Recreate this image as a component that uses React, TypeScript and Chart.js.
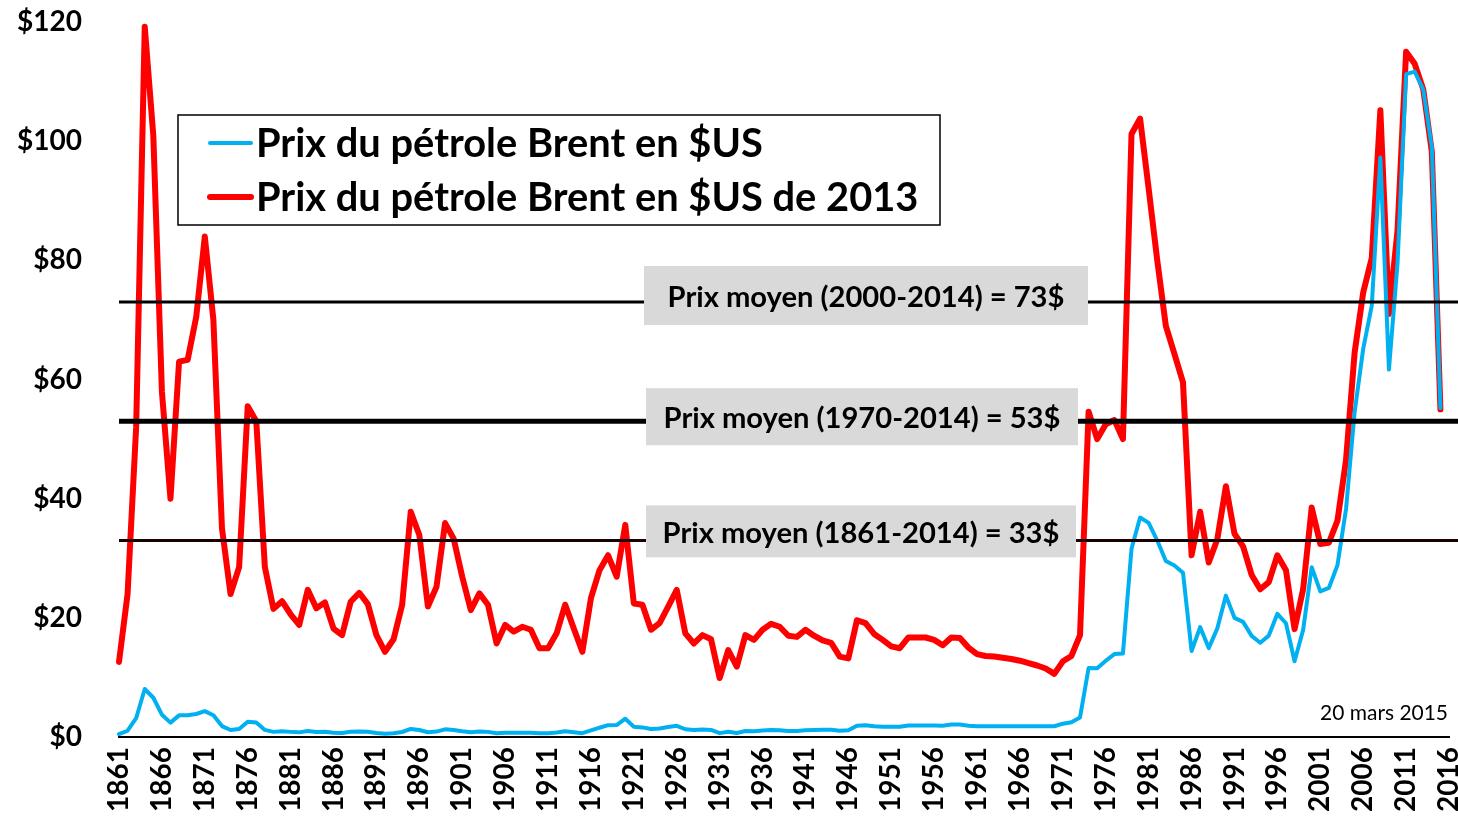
import React, { useEffect, useRef } from 'react';
import { Chart, registerables } from 'chart.js';

Chart.register(...registerables);

// Categories: years 1861..2016
const firstYear = 1861;
const lastYear = 2016;
const years: string[] = Array.from({ length: lastYear - firstYear + 1 }, (_, i) => String(firstYear + i));

// Nominal Brent price ($US), 1861..2015 (2016 empty)
const nominalPrice: (number | null)[] = [
  0.49, 1.05, 3.15, 8.06, 6.59, 3.74, 2.41, 3.63, 3.64, 3.86,
  4.34, 3.64, 1.83, 1.17, 1.35, 2.56, 2.42, 1.19, 0.86, 0.95,
  0.86, 0.78, 1.0, 0.84, 0.88, 0.71, 0.67, 0.88, 0.94, 0.87,
  0.67, 0.56, 0.64, 0.84, 1.36, 1.18, 0.79, 0.91, 1.29, 1.19,
  0.96, 0.8, 0.94, 0.86, 0.62, 0.73, 0.72, 0.72, 0.7, 0.61,
  0.61, 0.74, 0.95, 0.81, 0.64, 1.1, 1.56, 1.98, 2.01, 3.07,
  1.73, 1.61, 1.34, 1.43, 1.68, 1.88, 1.3, 1.17, 1.27, 1.19,
  0.65, 0.87, 0.67, 1.0, 0.97, 1.09, 1.18, 1.13, 1.02, 1.02,
  1.14, 1.19, 1.2, 1.21, 1.05, 1.12, 1.9, 1.99, 1.8, 1.71,
  1.71, 1.71, 1.93, 1.93, 1.93, 1.93, 1.9, 2.08, 2.08, 1.9,
  1.8, 1.8, 1.8, 1.8, 1.8, 1.8, 1.8, 1.8, 1.8, 1.8,
  2.24, 2.48, 3.29, 11.58, 11.53, 12.8, 13.92, 14.02, 31.61, 36.83,
  35.93, 32.97, 29.55, 28.78, 27.56, 14.43, 18.44, 14.92, 18.23, 23.73,
  20.0, 19.32, 16.97, 15.82, 17.02, 20.67, 19.09, 12.72, 17.97, 28.5,
  24.44, 25.02, 28.83, 38.27, 54.52, 65.14, 72.39, 97.26, 61.67, 79.5,
  111.26, 111.67, 108.66, 98.95, 55.2, null,
];

// Brent price in 2013 $US, 1861..2015 (2016 empty)
const realPrice: (number | null)[] = [
  12.6, 24.0, 52, 119.2, 100.9, 58, 40, 63, 63.3, 70.5,
  84, 70, 35, 24, 28.5, 55.5, 53, 28.5, 21.5, 22.8,
  20.6, 18.8, 24.7, 21.6, 22.6, 18.2, 17.1, 22.7, 24.2, 22.3,
  17.1, 14.3, 16.4, 22.2, 37.8, 33.9, 21.9, 25.2, 35.9, 33.3,
  26.9, 21.3, 24.1, 22.2, 15.7, 18.8, 17.7, 18.5, 18.0, 14.9,
  14.9, 17.4, 22.2, 18.2, 14.3, 23.3, 28.0, 30.5, 26.9, 35.6,
  22.4, 22.2, 18.0, 19.1, 21.9, 24.7, 17.4, 15.7, 17.1, 16.4,
  9.9, 14.6, 11.8, 17.1, 16.3, 18.0, 19.0, 18.5, 17.0, 16.8,
  18.0, 17.0, 16.2, 15.8, 13.5, 13.2, 19.6, 19.1, 17.3, 16.3,
  15.2, 14.9, 16.7, 16.7, 16.7, 16.3, 15.4, 16.7, 16.6, 15.0,
  13.9, 13.6, 13.5, 13.3, 13.1, 12.8, 12.4, 12.0, 11.5, 10.6,
  12.7, 13.6, 17.1, 54.6, 50.0, 52.5, 53.2, 50.0, 101.2, 103.8,
  92, 80, 69, 64.3, 59.5, 30.5, 37.8, 29.3, 33.2, 42.1,
  34.1, 32.0, 27.2, 24.8, 26.0, 30.5, 28.0, 18.1, 24.8, 38.5,
  32.4, 32.6, 36.3, 46.5, 64.5, 74.6, 80.4, 105.2, 71, 85,
  115, 113, 108.7, 98.2, 55.0, null,
];

const seriesNames = ['Prix du pétrole Brent en $US', 'Prix du pétrole Brent en $US de 2013'];
const seriesColors = ['#00b0f0', '#ff0000'];
const seriesWidths = [4, 6];

// Average price reference lines
const avgValues = [73, 53, 33];
const avgLabels = [
  'Prix moyen (2000-2014) = 73$',
  'Prix moyen (1970-2014) = 53$',
  'Prix moyen (1861-2014) = 33$',
];
const avgLineWidths = [3, 5, 3];
const avgLineColors = ['#000', '#000', '#1a0000'];
// label box styling: left, width, height, vertical offset from line
const boxLefts = [644, 646, 646];
const boxWidths = [444, 432, 430];
const boxHeights = [59, 57, 52];
const boxOffsets = [-6.5, -4.5, -9];

const yTicks = [0, 20, 40, 60, 80, 100, 120];
const dateNote = '20 mars 2015';

const FONT = 'Lato, "Open Sans", sans-serif';

function fitFont(ctx: CanvasRenderingContext2D, text: string, target: number, weight: string) {
  ctx.font = `${weight} 100px ${FONT}`;
  const w = ctx.measureText(text).width;
  return (100 * target) / w;
}

const overlayPlugin = {
  id: 'overlay',
  afterDatasetsDraw(chart: any) {
    const { ctx, chartArea, scales } = chart;
    const y = scales.y;
    ctx.save();
    // Average lines
    avgValues.forEach((v, i) => {
      const py = y.getPixelForValue(v);
      ctx.strokeStyle = avgLineColors[i];
      ctx.lineWidth = avgLineWidths[i];
      ctx.beginPath();
      ctx.moveTo(chartArea.left, py);
      ctx.lineTo(chart.width, py);
      ctx.stroke();
    });
    // Label boxes
    const boxSize = fitFont(ctx, avgLabels[0], 397, 'bold');
    ctx.font = `bold ${boxSize}px ${FONT}`;
    avgValues.forEach((v, i) => {
      const py = y.getPixelForValue(v);
      const left = boxLefts[i];
      const w = boxWidths[i];
      const h = boxHeights[i];
      const cy = py + boxOffsets[i];
      ctx.fillStyle = '#d9d9d9';
      ctx.fillRect(left, cy - h / 2, w, h);
      ctx.fillStyle = '#000';
      ctx.textAlign = 'center';
      ctx.textBaseline = 'middle';
      ctx.fillText(avgLabels[i], left + w / 2, cy + 2);
    });
    // Legend box
    const lx = 178, ly = 115, lw = 762, lh = 110;
    ctx.fillStyle = '#fff';
    ctx.fillRect(lx, ly, lw, lh);
    ctx.strokeStyle = '#000';
    ctx.lineWidth = 1.5;
    ctx.strokeRect(lx, ly, lw, lh);
    const legSize = fitFont(ctx, seriesNames[0], 507, 'bold');
    const rows = [143, 197];
    seriesNames.forEach((name, i) => {
      const ry = rows[i];
      ctx.strokeStyle = seriesColors[i];
      ctx.lineWidth = seriesWidths[i];
      ctx.lineCap = 'round';
      ctx.beginPath();
      ctx.moveTo(210, ry);
      ctx.lineTo(251, ry);
      ctx.stroke();
      ctx.font = `bold ${legSize}px ${FONT}`;
      ctx.fillStyle = '#000';
      ctx.textAlign = 'left';
      ctx.textBaseline = 'middle';
      ctx.fillText(name, 256, ry + 1);
    });
    // Date note
    const noteSize = fitFont(ctx, dateNote, 128, 'normal');
    ctx.font = `normal ${noteSize}px ${FONT}`;
    ctx.fillStyle = '#000';
    ctx.textAlign = 'right';
    ctx.textBaseline = 'alphabetic';
    ctx.fillText(dateNote, 1448, 720);
    ctx.restore();
  },
};

export default function App() {
  const ref = useRef<HTMLCanvasElement | null>(null);
  useEffect(() => {
    if (!ref.current) return;
    const chart = new Chart(ref.current, {
      type: 'line',
      data: {
        labels: years,
        datasets: [
          {
            label: seriesNames[0],
            data: nominalPrice,
            borderColor: seriesColors[0],
            backgroundColor: seriesColors[0],
            borderWidth: seriesWidths[0],
            pointRadius: 0,
            tension: 0,
            borderJoinStyle: 'round',
            borderCapStyle: 'round',
            spanGaps: false,
          },
          {
            label: seriesNames[1],
            data: realPrice,
            borderColor: seriesColors[1],
            backgroundColor: seriesColors[1],
            borderWidth: seriesWidths[1],
            pointRadius: 0,
            tension: 0,
            borderJoinStyle: 'round',
            borderCapStyle: 'round',
            spanGaps: false,
          },
        ],
      },
      options: {
        responsive: false,
        animation: false,
        layout: { padding: { top: 22, right: 9, left: 0, bottom: 0 } },
        plugins: {
          legend: { display: false },
          tooltip: { enabled: false },
        },
        scales: {
          x: {
            type: 'category',
            offset: false,
            grid: { display: false, drawTicks: false },
            border: { display: true, color: '#000', width: 2 },
            ticks: {
              autoSkip: false,
              maxRotation: 90,
              minRotation: 90,
              padding: 10,
              color: '#000',
              font: { family: FONT, weight: 'bold', size: 28 },
              callback: (_v: any, idx: number) => (idx % 5 === 0 ? years[idx] : null),
            },
            afterFit: (scale: any) => {
              scale.height = 84;
              scale.paddingLeft = 0;
              scale.paddingRight = 0;
            },
          },
          y: {
            min: 0,
            max: 120,
            grid: { display: false, drawTicks: false },
            border: { display: false },
            afterBuildTicks: (scale: any) => {
              scale.ticks = yTicks.map((v) => ({ value: v }));
            },
            ticks: {
              padding: 37,
              color: '#000',
              font: { family: FONT, weight: 'bold', size: 28 },
              callback: (v: any) => '$' + v,
            },
            afterFit: (scale: any) => {
              scale.width = 119;
              scale.paddingTop = 0;
              scale.paddingBottom = 0;
            },
          },
        },
      },
      plugins: [overlayPlugin],
    });
    return () => chart.destroy();
  }, []);
  return (
    <div style={{ position: 'absolute', left: 0, top: 0, width: 1458, height: 821, background: '#fff' }}>
      <canvas ref={ref} width={1458} height={821} style={{ display: 'block' }} />
    </div>
  );
}
